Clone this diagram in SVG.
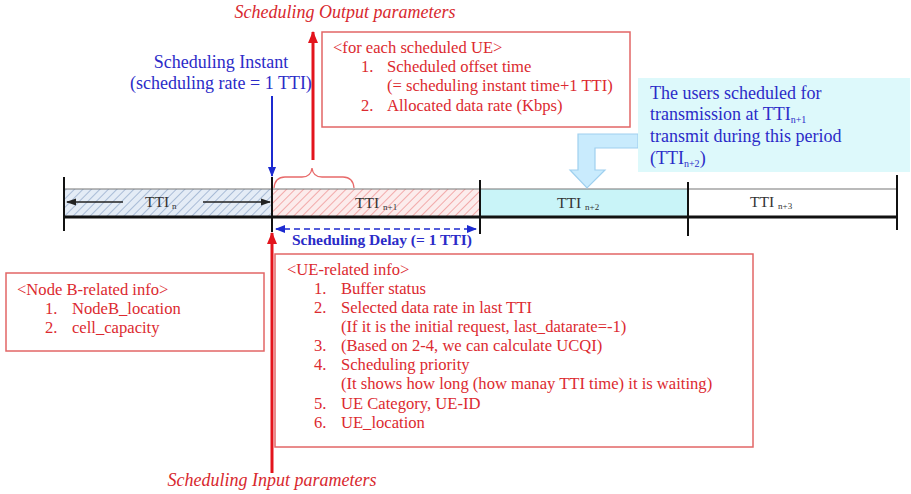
<svg xmlns="http://www.w3.org/2000/svg" width="911" height="494" viewBox="0 0 911 494">
<style>
text{font-family:"Liberation Serif","Times New Roman",serif}
.r{fill:#dc2a30;font-size:16.6px}
.b{fill:#2b2bc8;font-size:18px}
.ti{fill:#d8282e;font-size:18px;font-style:italic}
.tt{fill:#333;font-size:15.5px}
.sub{font-size:9px}
.box{fill:#fff;stroke:#e26666;stroke-width:1.5}
.tick{stroke:#111;stroke-width:2}
</style>
<defs>
<pattern id="hb" width="6" height="6" patternUnits="userSpaceOnUse" patternTransform="rotate(45)">
<rect width="6" height="6" fill="#e4ecf6"/><line x1="0" y1="0" x2="0" y2="6" stroke="#a9bcd6" stroke-width="2"/>
</pattern>
<pattern id="hr" width="6" height="6" patternUnits="userSpaceOnUse" patternTransform="rotate(45)">
<rect width="6" height="6" fill="#fcecec"/><line x1="0" y1="0" x2="0" y2="6" stroke="#f2aaaa" stroke-width="2"/>
</pattern>
<marker id="ab" markerWidth="10" markerHeight="10" refX="9" refY="5" orient="auto" markerUnits="userSpaceOnUse"><path d="M0,1 L10,5 L0,9 Z" fill="#1c2ad0"/></marker>
<marker id="ar" markerWidth="12" markerHeight="12" refX="11" refY="6" orient="auto" markerUnits="userSpaceOnUse"><path d="M0,1 L12,6 L0,11 Z" fill="#e3141c"/></marker>
<marker id="ak" markerWidth="10" markerHeight="10" refX="9" refY="5" orient="auto" markerUnits="userSpaceOnUse"><path d="M0,1.5 L10,5 L0,8.5 Z" fill="#222"/></marker>
<marker id="ad" markerWidth="10" markerHeight="10" refX="9" refY="5" orient="auto" markerUnits="userSpaceOnUse"><path d="M0,1 L10,5 L0,9 Z" fill="#1c2ad0"/></marker>
</defs>
<rect width="911" height="494" fill="#fff"/>

<g id="timeline">
<rect x="64" y="189" width="208" height="28" fill="url(#hb)"/>
<rect x="272" y="189" width="208" height="28" fill="url(#hr)"/>
<rect x="480" y="189" width="208" height="28" fill="#c9f4f8"/>
<rect x="688" y="189" width="209" height="28" fill="#fff"/>
<line x1="64" y1="189" x2="897" y2="189" stroke="#777" stroke-width="1.2"/>
<line x1="64" y1="217" x2="897" y2="217" stroke="#111" stroke-width="3"/>
<line class="tick" x1="64" y1="177" x2="64" y2="231"/>
<line class="tick" x1="272" y1="177" x2="272" y2="232"/>
<line class="tick" x1="480" y1="180" x2="480" y2="234"/>
<line class="tick" x1="688" y1="182" x2="688" y2="236"/>
<line class="tick" x1="897" y1="175" x2="897" y2="230"/>
<text class="tt" x="145" y="207">TTI<tspan class="sub" dx="3" dy="2">n</tspan></text>
<line x1="123" y1="202" x2="67" y2="202" stroke="#222" stroke-width="1.5" marker-end="url(#ak)"/>
<line x1="203" y1="202" x2="270" y2="202" stroke="#222" stroke-width="1.5" marker-end="url(#ak)"/>
<text class="tt" x="355" y="208">TTI<tspan class="sub" dx="4" dy="2">n+1</tspan></text>
<text class="tt" x="557" y="208">TTI<tspan class="sub" dx="4" dy="2">n+2</tspan></text>
<text class="tt" x="750" y="207">TTI<tspan class="sub" dx="4" dy="2">n+3</tspan></text>
</g>

<g id="connectors">
<line x1="272" y1="96" x2="272" y2="176" stroke="#1c2ad0" stroke-width="2" marker-end="url(#ab)"/>
<line x1="313" y1="160" x2="313" y2="32" stroke="#e3141c" stroke-width="3" marker-end="url(#ar)"/>
<path d="M274,188 Q275,177 285,177 L302,177 Q311,177 312,168 Q313,177 322,177 L343,177 Q353,177 354,188" fill="none" stroke="#e86a6a" stroke-width="1.3"/>
<line x1="272" y1="473" x2="272" y2="233" stroke="#e3141c" stroke-width="3" marker-end="url(#ar)"/>
<line x1="284" y1="229" x2="276" y2="229" stroke="#1c2ad0" stroke-width="1.6" marker-end="url(#ad)"/>
<line x1="284" y1="229" x2="476" y2="229" stroke="#1c2ad0" stroke-width="1.6" stroke-dasharray="6,4" marker-end="url(#ad)"/>
<path d="M638,134 L578,134 L578,170 L570,170 L587,188 L605,170 L595,170 L595,148 L638,148 Z" fill="#c9ebfd" stroke="#9fd0ef" stroke-width="1.2"/>
</g>

<g id="scheduling-instant">
<text class="b" x="221" y="68" text-anchor="middle">Scheduling Instant</text>
<text class="b" x="221" y="89" text-anchor="middle">(scheduling rate = 1 TTI)</text>
</g>

<g id="output-title">
<text class="ti" x="345" y="18" text-anchor="middle">Scheduling Output parameters</text>
</g>

<g id="output-box">
<rect class="box" x="322" y="32" width="308" height="95"/>
<text class="r" x="333" y="53">&lt;for each scheduled UE&gt;</text>
<text class="r" x="361" y="72">1.</text>
<text class="r" x="387" y="72">Scheduled offset time</text>
<text class="r" x="387" y="91">(= scheduling instant time+1 TTI)</text>
<text class="r" x="361" y="111">2.</text>
<text class="r" x="387" y="111">Allocated data rate (Kbps)</text>
</g>

<g id="callout">
<rect x="638" y="78" width="272" height="94" fill="#ddf9fb"/>
<text class="b" x="650" y="99">The users scheduled for</text>
<text class="b" x="650" y="120">transmission at TTI<tspan font-size="10" dy="3">n+1</tspan></text>
<text class="b" x="650" y="142">transmit during this period</text>
<text class="b" x="650" y="164">(TTI<tspan font-size="10" dy="3">n+2</tspan><tspan dy="-3">)</tspan></text>
</g>

<g id="scheduling-delay">
<text x="292" y="245" fill="#2b2bc8" font-size="15.5" font-weight="bold">Scheduling Delay (= 1 TTI)</text>
</g>

<g id="nodeb-box">
<rect class="box" x="6" y="273" width="258" height="78"/>
<text class="r" x="17" y="295">&lt;Node B-related info&gt;</text>
<text class="r" x="45" y="314">1.</text>
<text class="r" x="72" y="314">NodeB_location</text>
<text class="r" x="45" y="333">2.</text>
<text class="r" x="72" y="333">cell_capacity</text>
</g>

<g id="ue-box">
<rect class="box" x="275" y="254" width="478" height="193"/>
<text class="r" x="287" y="275">&lt;UE-related info&gt;</text>
<text class="r" x="314" y="294">1.</text>
<text class="r" x="341" y="294">Buffer status</text>
<text class="r" x="314" y="313">2.</text>
<text class="r" x="341" y="313">Selected data rate in last TTI</text>
<text class="r" x="341" y="332">(If it is the initial request, last_datarate=-1)</text>
<text class="r" x="314" y="351">3.</text>
<text class="r" x="341" y="351">(Based on 2-4, we can calculate UCQI)</text>
<text class="r" x="314" y="370">4.</text>
<text class="r" x="341" y="370">Scheduling priority</text>
<text class="r" x="341" y="389">(It shows how long (how manay TTI time) it is waiting)</text>
<text class="r" x="314" y="409">5.</text>
<text class="r" x="341" y="409">UE Category, UE-ID</text>
<text class="r" x="314" y="428">6.</text>
<text class="r" x="341" y="428">UE_location</text>
</g>

<g id="input-title">
<text class="ti" x="272" y="486" text-anchor="middle">Scheduling Input parameters</text>
</g>
</svg>
